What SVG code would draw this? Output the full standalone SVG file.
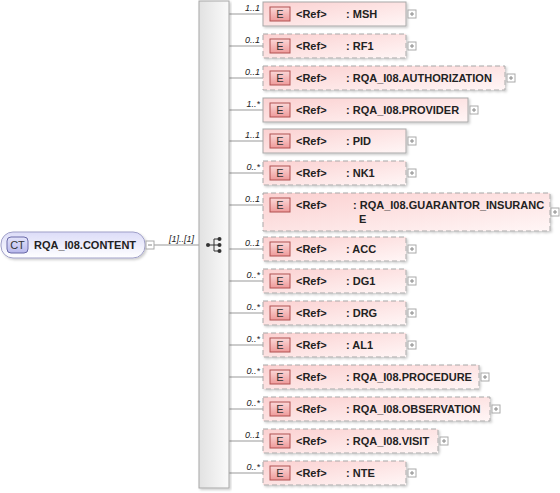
<svg xmlns="http://www.w3.org/2000/svg" width="560" height="493" viewBox="0 0 560 493">
<defs>
<linearGradient id="gEl" x1="0" y1="0" x2="1" y2="1">
<stop offset="0" stop-color="#fbd0d0"/>
<stop offset="1" stop-color="#fff6f6"/>
</linearGradient>
<linearGradient id="gBadge" x1="0" y1="0" x2="0" y2="1">
<stop offset="0" stop-color="#fbd8d8"/>
<stop offset="1" stop-color="#ee9a9a"/>
</linearGradient>
<linearGradient id="gCT" x1="0" y1="0" x2="0" y2="1">
<stop offset="0" stop-color="#dcdcf8"/>
<stop offset="1" stop-color="#ffffff"/>
</linearGradient>
<linearGradient id="gCTb" x1="0" y1="0" x2="0" y2="1">
<stop offset="0" stop-color="#e4e4fa"/>
<stop offset="1" stop-color="#b8b8ec"/>
</linearGradient>
<linearGradient id="gSeq" x1="0" y1="0" x2="1" y2="0">
<stop offset="0" stop-color="#e2e2e2"/>
<stop offset="1" stop-color="#fafafa"/>
</linearGradient>
<filter id="sh" x="-5%" y="-10%" width="115%" height="140%">
<feDropShadow dx="1.5" dy="1.5" stdDeviation="1" flood-color="#000" flood-opacity="0.2"/>
</filter>
</defs>
<style>
.el{fill:url(#gEl);stroke:#a8a8a8;stroke-width:1;filter:url(#sh)}
.opt{stroke-dasharray:5,3}
.badge{fill:url(#gBadge);stroke:#b05050;stroke-width:1}
.bt{font-family:"Liberation Sans",Arial,sans-serif;font-size:11px;fill:#333;text-anchor:middle}
.t{font-family:"Liberation Sans",Arial,sans-serif;font-size:11px;font-weight:bold;fill:#222}
.card{font-family:"Liberation Sans",Arial,sans-serif;font-size:9px;font-style:italic;fill:#222;text-anchor:end}
.con{stroke:#999;stroke-width:1;fill:none}
.pm{fill:#fff;stroke:#aaa;stroke-width:1}
.pml{stroke:#888;stroke-width:1}
</style>

<g id="connectors">
<line class="con" x1="154" y1="245" x2="199" y2="245"/>
<line class="con" x1="229" y1="14" x2="263" y2="14"/>
<line class="con" x1="229" y1="46" x2="263" y2="46"/>
<line class="con" x1="229" y1="78" x2="263" y2="78"/>
<line class="con" x1="229" y1="110" x2="263" y2="110"/>
<line class="con" x1="229" y1="141" x2="263" y2="141"/>
<line class="con" x1="229" y1="173" x2="263" y2="173"/>
<line class="con" x1="229" y1="205" x2="263" y2="205"/>
<line class="con" x1="229" y1="249" x2="263" y2="249"/>
<line class="con" x1="229" y1="281" x2="263" y2="281"/>
<line class="con" x1="229" y1="313" x2="263" y2="313"/>
<line class="con" x1="229" y1="345" x2="263" y2="345"/>
<line class="con" x1="229" y1="377" x2="263" y2="377"/>
<line class="con" x1="229" y1="409" x2="263" y2="409"/>
<line class="con" x1="229" y1="441" x2="263" y2="441"/>
<line class="con" x1="229" y1="473" x2="263" y2="473"/>
<text class="card" x="194" y="242">[1]..[1]</text>
<text class="card" x="260" y="11">1..1</text>
<text class="card" x="260" y="43">0..1</text>
<text class="card" x="260" y="75">0..1</text>
<text class="card" x="260" y="107">1..*</text>
<text class="card" x="260" y="138">1..1</text>
<text class="card" x="260" y="170">0..*</text>
<text class="card" x="260" y="202">0..1</text>
<text class="card" x="260" y="246">0..1</text>
<text class="card" x="260" y="278">0..*</text>
<text class="card" x="260" y="310">0..*</text>
<text class="card" x="260" y="342">0..*</text>
<text class="card" x="260" y="374">0..*</text>
<text class="card" x="260" y="406">0..*</text>
<text class="card" x="260" y="438">0..1</text>
<text class="card" x="260" y="470">0..*</text>
</g>

<g id="ct">
<rect x="1" y="232" width="144" height="26" rx="12" fill="url(#gCT)" stroke="#a0a0c8" filter="url(#sh)"/>
<rect x="7" y="237" width="21" height="16" rx="4" fill="url(#gCTb)" stroke="#6a6aa8"/>
<text class="bt" x="17.5" y="249">CT</text>
<text class="t" x="34" y="249">RQA_I08.CONTENT</text>
<rect class="pm" x="146" y="241" width="8" height="8"/>
<line class="pml" x1="148" y1="245" x2="152" y2="245"/>
</g>

<g id="sequence">
<rect x="199" y="1" width="30" height="487" fill="url(#gSeq)" stroke="#a8a8a8" filter="url(#sh)"/>
<circle cx="208" cy="245" r="2" fill="#333"/>
<line x1="208" y1="245" x2="214" y2="245" stroke="#333"/>
<line x1="214" y1="239" x2="214" y2="251" stroke="#333"/>
<line x1="214" y1="239" x2="219" y2="239" stroke="#333"/>
<line x1="214" y1="245" x2="219" y2="245" stroke="#333"/>
<line x1="214" y1="251" x2="219" y2="251" stroke="#333"/>
<circle cx="219.5" cy="239" r="2" fill="#333"/>
<circle cx="219.5" cy="245" r="2" fill="#333"/>
<circle cx="219.5" cy="251" r="2" fill="#333"/>
</g>

<g id="msh">
<rect class="el" x="263" y="2" width="143" height="24"/>
<rect class="badge" x="270" y="7" width="20" height="14"/><text class="bt" x="280" y="18">E</text>
<text class="t" x="296" y="18">&lt;Ref&gt;</text><text class="t" x="346" y="18">: MSH</text>
<rect class="pm" x="408" y="10" width="8" height="8"/><line class="pml" x1="410" y1="14" x2="414" y2="14"/><line class="pml" x1="412" y1="12" x2="412" y2="16"/>
</g>

<g id="rf1">
<rect class="el opt" x="263" y="34" width="143" height="24"/>
<rect class="badge" x="270" y="39" width="20" height="14"/><text class="bt" x="280" y="50">E</text>
<text class="t" x="296" y="50">&lt;Ref&gt;</text><text class="t" x="346" y="50">: RF1</text>
<rect class="pm" x="408" y="42" width="8" height="8"/><line class="pml" x1="410" y1="46" x2="414" y2="46"/><line class="pml" x1="412" y1="44" x2="412" y2="48"/>
</g>

<g id="authorization">
<rect class="el opt" x="263" y="66" width="242" height="24"/>
<rect class="badge" x="270" y="71" width="20" height="14"/><text class="bt" x="280" y="82">E</text>
<text class="t" x="296" y="82">&lt;Ref&gt;</text><text class="t" x="346" y="82">: RQA_I08.AUTHORIZATION</text>
<rect class="pm" x="507" y="74" width="8" height="8"/><line class="pml" x1="509" y1="78" x2="513" y2="78"/><line class="pml" x1="511" y1="76" x2="511" y2="80"/>
</g>

<g id="provider">
<rect class="el" x="263" y="98" width="205" height="24"/>
<rect class="badge" x="270" y="103" width="20" height="14"/><text class="bt" x="280" y="114">E</text>
<text class="t" x="296" y="114">&lt;Ref&gt;</text><text class="t" x="346" y="114">: RQA_I08.PROVIDER</text>
<rect class="pm" x="470" y="106" width="8" height="8"/><line class="pml" x1="472" y1="110" x2="476" y2="110"/><line class="pml" x1="474" y1="108" x2="474" y2="112"/>
</g>

<g id="pid">
<rect class="el" x="263" y="129" width="143" height="24"/>
<rect class="badge" x="270" y="134" width="20" height="14"/><text class="bt" x="280" y="145">E</text>
<text class="t" x="296" y="145">&lt;Ref&gt;</text><text class="t" x="346" y="145">: PID</text>
<rect class="pm" x="408" y="137" width="8" height="8"/><line class="pml" x1="410" y1="141" x2="414" y2="141"/><line class="pml" x1="412" y1="139" x2="412" y2="143"/>
</g>

<g id="nk1">
<rect class="el opt" x="263" y="161" width="143" height="24"/>
<rect class="badge" x="270" y="166" width="20" height="14"/><text class="bt" x="280" y="177">E</text>
<text class="t" x="296" y="177">&lt;Ref&gt;</text><text class="t" x="346" y="177">: NK1</text>
<rect class="pm" x="408" y="169" width="8" height="8"/><line class="pml" x1="410" y1="173" x2="414" y2="173"/><line class="pml" x1="412" y1="171" x2="412" y2="175"/>
</g>

<g id="guarantor_insurance">
<rect class="el opt" x="263" y="193" width="287" height="38"/>
<rect class="badge" x="270" y="198" width="20" height="14"/><text class="bt" x="280" y="209">E</text>
<text class="t" x="296" y="209">&lt;Ref&gt;</text><text class="t" x="353" y="209">: RQA_I08.GUARANTOR_INSURANC</text>
<text class="t" x="359" y="223">E</text>
<rect class="pm" x="551" y="208" width="8" height="8"/><line class="pml" x1="553" y1="212" x2="557" y2="212"/><line class="pml" x1="555" y1="210" x2="555" y2="214"/>
</g>

<g id="acc">
<rect class="el opt" x="263" y="237" width="143" height="24"/>
<rect class="badge" x="270" y="242" width="20" height="14"/><text class="bt" x="280" y="253">E</text>
<text class="t" x="296" y="253">&lt;Ref&gt;</text><text class="t" x="346" y="253">: ACC</text>
<rect class="pm" x="408" y="245" width="8" height="8"/><line class="pml" x1="410" y1="249" x2="414" y2="249"/><line class="pml" x1="412" y1="247" x2="412" y2="251"/>
</g>

<g id="dg1">
<rect class="el opt" x="263" y="269" width="143" height="24"/>
<rect class="badge" x="270" y="274" width="20" height="14"/><text class="bt" x="280" y="285">E</text>
<text class="t" x="296" y="285">&lt;Ref&gt;</text><text class="t" x="346" y="285">: DG1</text>
<rect class="pm" x="408" y="277" width="8" height="8"/><line class="pml" x1="410" y1="281" x2="414" y2="281"/><line class="pml" x1="412" y1="279" x2="412" y2="283"/>
</g>

<g id="drg">
<rect class="el opt" x="263" y="301" width="143" height="24"/>
<rect class="badge" x="270" y="306" width="20" height="14"/><text class="bt" x="280" y="317">E</text>
<text class="t" x="296" y="317">&lt;Ref&gt;</text><text class="t" x="346" y="317">: DRG</text>
<rect class="pm" x="408" y="309" width="8" height="8"/><line class="pml" x1="410" y1="313" x2="414" y2="313"/><line class="pml" x1="412" y1="311" x2="412" y2="315"/>
</g>

<g id="al1">
<rect class="el opt" x="263" y="333" width="143" height="24"/>
<rect class="badge" x="270" y="338" width="20" height="14"/><text class="bt" x="280" y="349">E</text>
<text class="t" x="296" y="349">&lt;Ref&gt;</text><text class="t" x="346" y="349">: AL1</text>
<rect class="pm" x="408" y="341" width="8" height="8"/><line class="pml" x1="410" y1="345" x2="414" y2="345"/><line class="pml" x1="412" y1="343" x2="412" y2="347"/>
</g>

<g id="procedure">
<rect class="el opt" x="263" y="365" width="216" height="24"/>
<rect class="badge" x="270" y="370" width="20" height="14"/><text class="bt" x="280" y="381">E</text>
<text class="t" x="296" y="381">&lt;Ref&gt;</text><text class="t" x="346" y="381">: RQA_I08.PROCEDURE</text>
<rect class="pm" x="481" y="373" width="8" height="8"/><line class="pml" x1="483" y1="377" x2="487" y2="377"/><line class="pml" x1="485" y1="375" x2="485" y2="379"/>
</g>

<g id="observation">
<rect class="el opt" x="263" y="397" width="227" height="24"/>
<rect class="badge" x="270" y="402" width="20" height="14"/><text class="bt" x="280" y="413">E</text>
<text class="t" x="296" y="413">&lt;Ref&gt;</text><text class="t" x="346" y="413">: RQA_I08.OBSERVATION</text>
<rect class="pm" x="492" y="405" width="8" height="8"/><line class="pml" x1="494" y1="409" x2="498" y2="409"/><line class="pml" x1="496" y1="407" x2="496" y2="411"/>
</g>

<g id="visit">
<rect class="el opt" x="263" y="429" width="175" height="24"/>
<rect class="badge" x="270" y="434" width="20" height="14"/><text class="bt" x="280" y="445">E</text>
<text class="t" x="296" y="445">&lt;Ref&gt;</text><text class="t" x="346" y="445">: RQA_I08.VISIT</text>
<rect class="pm" x="440" y="437" width="8" height="8"/><line class="pml" x1="442" y1="441" x2="446" y2="441"/><line class="pml" x1="444" y1="439" x2="444" y2="443"/>
</g>

<g id="nte">
<rect class="el opt" x="263" y="461" width="143" height="24"/>
<rect class="badge" x="270" y="466" width="20" height="14"/><text class="bt" x="280" y="477">E</text>
<text class="t" x="296" y="477">&lt;Ref&gt;</text><text class="t" x="346" y="477">: NTE</text>
<rect class="pm" x="408" y="469" width="8" height="8"/><line class="pml" x1="410" y1="473" x2="414" y2="473"/><line class="pml" x1="412" y1="471" x2="412" y2="475"/>
</g>
</svg>
